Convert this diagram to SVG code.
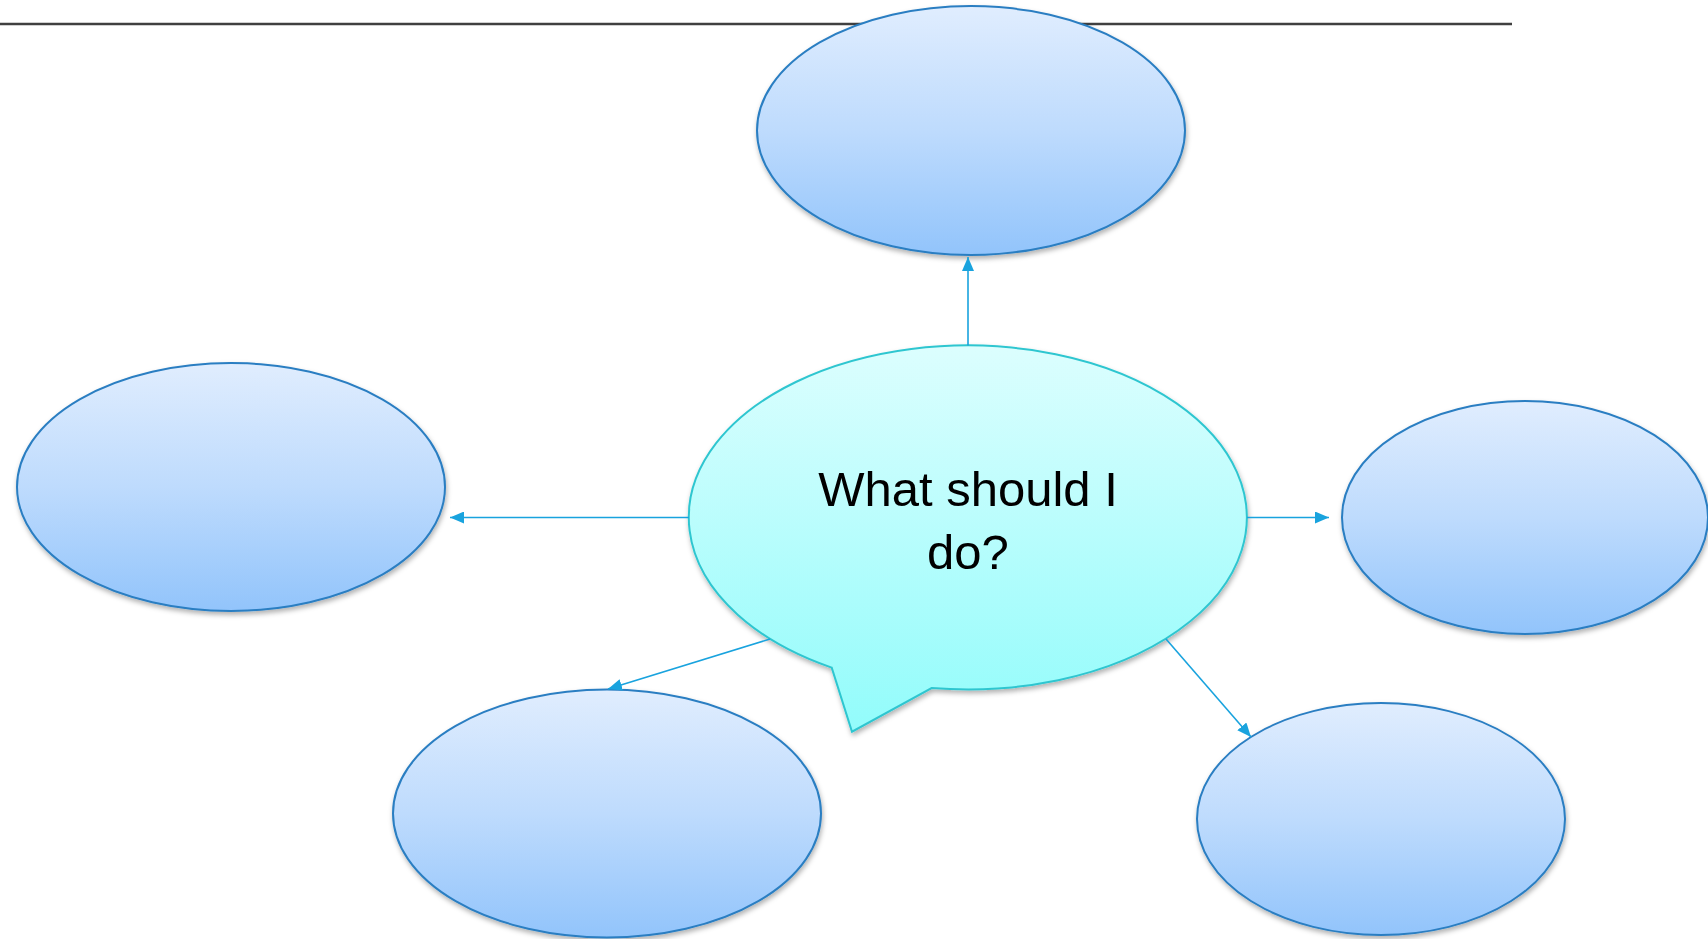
<svg xmlns="http://www.w3.org/2000/svg" width="1708" height="939" viewBox="0 0 1708 939">
<style>
.oval{fill:url(#gBlue);stroke:#2A7EC2;stroke-width:2;filter:url(#sh)}
.bubble{fill:url(#gCyan);stroke:#2FC6D0;stroke-width:2;filter:url(#sh)}
.conn{stroke:#19A3DE;stroke-width:1.6;fill:none;marker-end:url(#arr)}
.lbl{font-family:"Liberation Sans",Arial,sans-serif;font-size:49px;fill:#000;text-anchor:middle}
</style>
<defs>
<linearGradient id="gBlue" x1="0" y1="0" x2="0" y2="1">
<stop offset="0" stop-color="#E0EDFE"/>
<stop offset="0.5" stop-color="#BEDBFD"/>
<stop offset="1" stop-color="#92C4FB"/>
</linearGradient>
<linearGradient id="gCyan" x1="0" y1="0" x2="0" y2="1">
<stop offset="0" stop-color="#DCFEFE"/>
<stop offset="1" stop-color="#92FCFB"/>
</linearGradient>
<filter id="sh" x="-10%" y="-10%" width="120%" height="125%">
<feDropShadow dx="1" dy="3" stdDeviation="2.5" flood-color="#000" flood-opacity="0.3"/>
</filter>
<marker id="arr" viewBox="0 0 14 12" refX="14" refY="6" markerWidth="14" markerHeight="12" markerUnits="userSpaceOnUse" orient="auto">
<path d="M0,0 L14,6 L0,12 z" fill="#19A3DE"/>
</marker>
</defs>
<line x1="0" y1="24" x2="1512" y2="24" stroke="#404040" stroke-width="2.5"/>
<g id="node-top"><ellipse class="oval" cx="971" cy="130.5" rx="214" ry="124.5"/></g>
<g id="node-left"><ellipse class="oval" cx="231" cy="487" rx="214" ry="124"/></g>
<g id="node-right"><ellipse class="oval" cx="1525" cy="517.5" rx="183" ry="116.5"/></g>
<g id="node-bottom-left"><ellipse class="oval" cx="607" cy="813.5" rx="214" ry="124"/></g>
<g id="node-bottom-right"><ellipse class="oval" cx="1381" cy="819" rx="184" ry="116"/></g>
<g id="node-center">
<path class="bubble" d="M831.7,667.6 A279,172 0 1 1 931.6,688.0 L852,731.7 Z"/>
<text class="lbl" x="968" y="505.5">What should I</text>
<text class="lbl" x="968" y="569">do?</text>
</g>
<g id="connectors">
<line class="conn" x1="968" y1="345.5" x2="968" y2="257"/>
<line class="conn" x1="689" y1="517.5" x2="450" y2="517.5"/>
<line class="conn" x1="1247" y1="517.5" x2="1329" y2="517.5"/>
<line class="conn" x1="770" y1="639" x2="608" y2="689"/>
<line class="conn" x1="1166" y1="639" x2="1251" y2="737"/>
</g>
</svg>
